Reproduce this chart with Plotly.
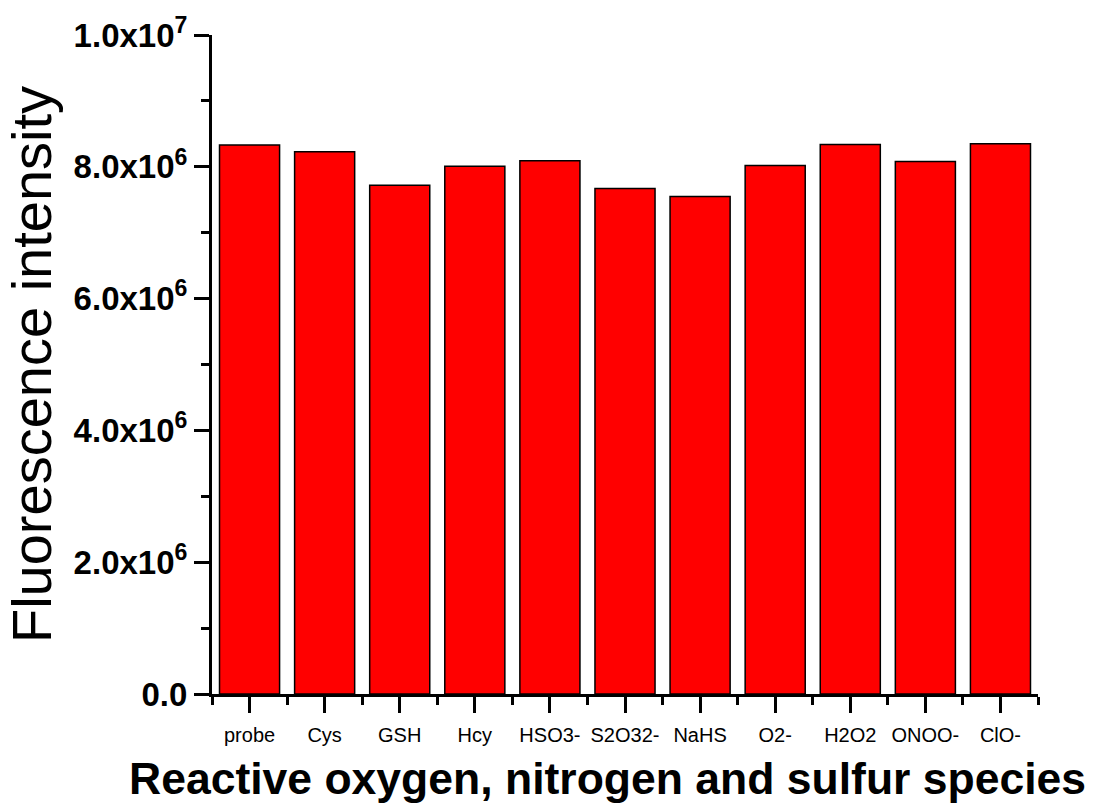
import plotly.graph_objects as go

# Species tested and their emission intensity
categories = ["probe", "Cys", "GSH", "Hcy", "HSO3-", "S2O32-", "NaHS",
              "O2-", "H2O2", "ONOO-", "ClO-"]
intensity = [8.33e6, 8.23e6, 7.72e6, 8.01e6, 8.09e6, 7.67e6, 7.55e6,
             8.02e6, 8.34e6, 8.08e6, 8.35e6]

y_tickvals = [0, 2e6, 4e6, 6e6, 8e6, 1e7]
y_ticktext = ["0.0", "2.0x10<sup>6</sup>", "4.0x10<sup>6</sup>",
              "6.0x10<sup>6</sup>", "8.0x10<sup>6</sup>", "1.0x10<sup>7</sup>"]

FONT = "Arial, 'Liberation Sans', sans-serif"
positions = list(range(len(categories)))

fig = go.Figure(
    go.Bar(
        x=positions,
        y=intensity,
        width=0.8,
        marker=dict(color="#FF0000", line=dict(color="black", width=1.5)),
    )
)

fig.update_layout(
    width=1101,
    height=808,
    margin=dict(l=212, r=63, t=33, b=114),
    paper_bgcolor="white",
    plot_bgcolor="white",
    showlegend=False,
    font=dict(family=FONT, color="black"),
)

# x-axis title placed as an annotation so it can sit slightly left of centre
fig.add_annotation(
    text="<b>Reactive oxygen, nitrogen and sulfur species</b>",
    xref="paper", yref="paper",
    x=0.479, y=-0.128,
    xanchor="center", yanchor="middle",
    showarrow=False,
    font=dict(family=FONT, size=44.5, color="black"),
)

fig.update_xaxes(
    range=[-0.5, 10.5],
    tickvals=positions,
    ticktext=categories,
    tickfont=dict(family=FONT, size=20, color="black"),
    ticklabelstandoff=5,
    ticks="outside",
    ticklen=16,
    tickwidth=3,
    tickcolor="black",
    minor=dict(tickvals=[p - 0.5 for p in positions] + [10.5],
               ticks="outside", ticklen=8, tickwidth=3, tickcolor="black"),
    showline=True,
    linewidth=3,
    linecolor="black",
    showgrid=False,
    zeroline=False,
)

fig.update_yaxes(
    range=[0, 1e7],
    tickvals=y_tickvals,
    ticktext=[f"<b>{t}</b>" for t in y_ticktext],
    tickfont=dict(family=FONT, size=33, color="black"),
    ticks="outside",
    ticklen=15,
    tickwidth=3,
    tickcolor="black",
    minor=dict(dtick=1e6, tick0=0, ticks="outside", ticklen=8, tickwidth=3,
               tickcolor="black"),
    showline=True,
    linewidth=3,
    linecolor="black",
    showgrid=False,
    zeroline=False,
    title=dict(text="Fluorescence intensity",
               font=dict(family=FONT, size=56, color="black"), standoff=6),
)

fig.write_html("out.html")
